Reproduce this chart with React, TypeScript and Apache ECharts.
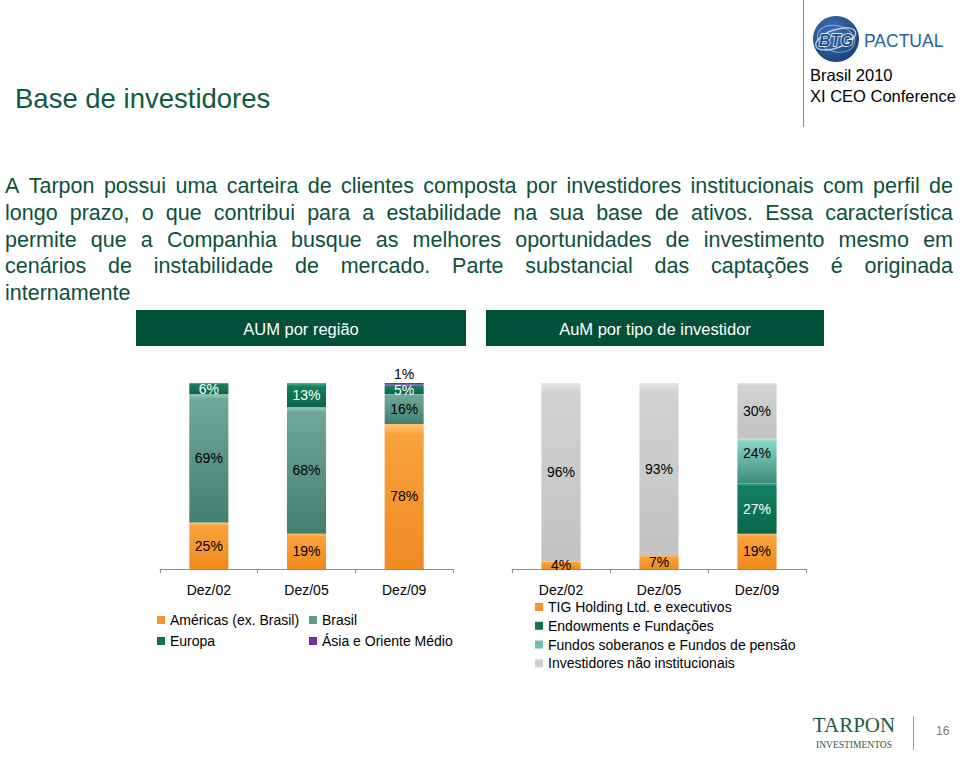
import React, { useEffect, useRef } from 'react';
import * as echarts from 'echarts';

// ---------- data ----------
const regionCategories = ['Dez/02', 'Dez/05', 'Dez/09'];
const investorCategories = ['Dez/02', 'Dez/05', 'Dez/09'];

const americasValues = [25, 19, 78];
const brasilValues = [69, 68, 16];
const europaValues = [6, 13, 5];
const asiaValues = [0, 0, 1];

const tigValues = [4, 7, 19];
const endowmentsValues = [0, 0, 27];
const fundosValues = [0, 0, 24];
const naoInstValues = [96, 93, 30];

const regionNames = ['Américas (ex. Brasil)', 'Brasil', 'Europa', 'Ásia e Oriente Médio'];
const investorNames = [
  'TIG Holding Ltd. e executivos',
  'Endowments e Fundações',
  'Fundos soberanos e Fundos de pensão',
  'Investidores não institucionais',
];

const titleText = 'Base de investidores';
const bodyLines = [
  'A Tarpon possui uma carteira de clientes composta por investidores institucionais com perfil de',
  'longo prazo, o que contribui para a estabilidade na sua base de ativos. Essa característica',
  'permite que a Companhia busque as melhores oportunidades de investimento mesmo em',
  'cenários de instabilidade de mercado. Parte substancial das captações é originada',
  'internamente',
];

// ---------- styles ----------
const FONT = '"Liberation Sans", Arial, Helvetica, sans-serif';
const SERIF = '"Liberation Serif", "Times New Roman", serif';
const GREEN_TEXT = '#0D4F3C';

const vgrad = (stops: [number, string][]) =>
  new echarts.graphic.LinearGradient(0, 0, 0, 1, stops.map(([offset, color]) => ({ offset, color })));

const orange = vgrad([[0, '#FCC46E'], [0.08, '#F9A23E'], [1, '#F08A20']]);
const brasilC = vgrad([[0, '#9CCDBE'], [0.04, '#6EA898'], [1, '#437F6F']]);
const europaC = vgrad([[0, '#4DB891'], [0.15, '#177E5C'], [1, '#0C6649']]);
const asiaC = '#7030A0';
const endowC = vgrad([[0, '#37A47D'], [0.06, '#138061'], [1, '#0A6549']]);
const fundosC = vgrad([[0, '#B4EDE2'], [0.06, '#85D5C6'], [1, '#3F897C']]);
const grayC = vgrad([[0, '#E6E6E6'], [0.05, '#D2D2D2'], [1, '#C2C2C2']]);

function justified(lines: string[], x0: number, x1: number, y0: number, gap: number, size: number) {
  const ctx = document.createElement('canvas').getContext('2d')!;
  ctx.font = `${size}px ${FONT}`;
  const els: any[] = [];
  lines.forEach((line, li) => {
    const y = y0 + li * gap;
    if (li === lines.length - 1) {
      els.push({ type: 'text', x: x0, y, style: { text: line, fontSize: size, fontFamily: FONT, fill: GREEN_TEXT, verticalAlign: 'middle' } });
      return;
    }
    const words = line.split(' ');
    const widths = words.map((w) => ctx.measureText(w).width);
    const total = widths.reduce((a, b) => a + b, 0);
    const sp = (x1 - x0 - total) / (words.length - 1);
    let x = x0;
    words.forEach((w, i) => {
      els.push({ type: 'text', x, y, style: { text: w, fontSize: size, fontFamily: FONT, fill: GREEN_TEXT, verticalAlign: 'middle' } });
      x += widths[i] + sp;
    });
  });
  return els;
}

function bar(name: string, data: number[], axis: number, color: any, labelColor: string, labelExtra: any = {}) {
  return {
    name,
    type: 'bar',
    stack: 'stack' + axis,
    xAxisIndex: axis,
    yAxisIndex: axis,
    data,
    barWidth: '40%',
    itemStyle: { color },
    label: {
      show: true,
      position: 'inside',
      fontSize: 14,
      fontFamily: FONT,
      color: labelColor,
      formatter: (p: any) => (p.value > 0 ? p.value + '%' : ''),
      ...labelExtra,
    },
    emphasis: { disabled: true },
  };
}

const xAxisBase = (gridIndex: number, data: string[]) => ({
  type: 'category',
  gridIndex,
  data,
  axisLine: { lineStyle: { color: '#8C8C8C', width: 1 } },
  axisTick: { show: true, length: 4, lineStyle: { color: '#8C8C8C' } },
  axisLabel: { fontSize: 14, color: '#000', margin: 14, fontFamily: FONT },
});

const yAxisBase = (gridIndex: number) => ({
  type: 'value',
  gridIndex,
  min: 0,
  max: 100,
  show: false,
  splitLine: { show: false },
});

const legendBase = {
  orient: 'vertical',
  padding: 0,
  itemWidth: 8,
  itemHeight: 8,
  icon: 'rect',
  selectedMode: false,
  textStyle: { fontSize: 14, color: '#000', fontFamily: FONT, lineHeight: 16 },
};

export default function App() {
  const ref = useRef<HTMLDivElement>(null);
  useEffect(() => {
    document.body.style.margin = '0';
    if (!ref.current) return;
    const chart = echarts.init(ref.current, undefined, { renderer: 'svg' });

    const graphic: any[] = [
      // title
      { type: 'text', x: 15, y: 98, style: { text: titleText, fontSize: 27.5, fontFamily: FONT, fill: '#0F5A43', verticalAlign: 'middle' } },
      // top-right separator
      { type: 'line', shape: { x1: 803.5, y1: 0, x2: 803.5, y2: 127 }, style: { stroke: '#8A8A8A', lineWidth: 1 } },
      // BTG logo
      {
        type: 'circle',
        shape: { cx: 836, cy: 39, r: 23 },
        style: { fill: new echarts.graphic.RadialGradient(0.4, 0.35, 0.75, [{ offset: 0, color: '#3F74B6' }, { offset: 1, color: '#163D78' }]) },
      },
      { type: 'ellipse', shape: { cx: 836, cy: 39, rx: 21, ry: 9 }, rotation: 0.35, originX: 836, originY: 39, style: { fill: 'none', stroke: 'rgba(255,255,255,0.75)', lineWidth: 1.3 } },
      { type: 'ellipse', shape: { cx: 836, cy: 39, rx: 19, ry: 13 }, rotation: -0.25, originX: 836, originY: 39, style: { fill: 'none', stroke: 'rgba(255,255,255,0.45)', lineWidth: 1 } },
      { type: 'text', x: 836, y: 40, style: { text: 'BTG', fontSize: 16, fontWeight: 'bold', fontStyle: 'italic', fontFamily: FONT, fill: '#1E4C8C', stroke: '#FFFFFF', lineWidth: 1.4, align: 'center', verticalAlign: 'middle' } },
      { type: 'text', x: 864, y: 41, style: { text: 'PACTUAL', fontSize: 17.5, fontFamily: FONT, fill: '#2A5EA8', verticalAlign: 'middle' } },
      { type: 'text', x: 810, y: 75, style: { text: 'Brasil 2010', fontSize: 16.5, fontFamily: FONT, fill: '#000', verticalAlign: 'middle' } },
      { type: 'text', x: 810, y: 96, style: { text: 'XI CEO Conference', fontSize: 16.5, fontFamily: FONT, fill: '#000', verticalAlign: 'middle' } },
      // body paragraph
      ...justified(bodyLines, 5, 953, 186, 26.75, 21.5),
      // header boxes
      { type: 'rect', shape: { x: 136, y: 310, width: 330, height: 36 }, style: { fill: '#03503A' } },
      { type: 'text', x: 301, y: 328.5, style: { text: 'AUM por região', fontSize: 16.5, fontFamily: FONT, fill: '#FFFFFF', align: 'center', verticalAlign: 'middle' } },
      { type: 'rect', shape: { x: 486, y: 310, width: 338, height: 36 }, style: { fill: '#03503A' } },
      { type: 'text', x: 655, y: 328.5, style: { text: 'AuM por tipo de investidor', fontSize: 16.5, fontFamily: FONT, fill: '#FFFFFF', align: 'center', verticalAlign: 'middle' } },
      // footer
      { type: 'text', x: 854, y: 725, style: { text: 'TARPON', fontSize: 21, lineHeight: 20, fontFamily: SERIF, fill: '#1F5A45', align: 'center', verticalAlign: 'middle' } },
      { type: 'text', x: 854, y: 744.5, style: { text: 'INVESTIMENTOS', fontSize: 9.5, lineHeight: 10, fontFamily: SERIF, fill: '#1F5A45', align: 'center', verticalAlign: 'middle' } },
      { type: 'line', shape: { x1: 913.5, y1: 716, x2: 913.5, y2: 750 }, style: { stroke: '#9A9A9A', lineWidth: 1 } },
      { type: 'text', x: 936, y: 731, style: { text: '16', fontSize: 12, fontFamily: FONT, fill: '#777', verticalAlign: 'middle' } },
    ];

    const option: any = {
      animation: false,
      textStyle: { fontFamily: FONT },
      grid: [
        { left: 160, top: 383, width: 293, height: 186 },
        { left: 512, top: 383, width: 294, height: 186 },
      ],
      xAxis: [xAxisBase(0, regionCategories), xAxisBase(1, investorCategories)],
      yAxis: [yAxisBase(0), yAxisBase(1)],
      legend: [
        {
          ...legendBase,
          left: 157,
          top: 612,
          itemGap: 5,
          data: [
            { name: regionNames[0], itemStyle: { color: '#F7962E' } },
            { name: regionNames[2], itemStyle: { color: '#0E7352' } },
          ],
        },
        {
          ...legendBase,
          left: 309,
          top: 612,
          itemGap: 5,
          data: [
            { name: regionNames[1], itemStyle: { color: '#5E9A8A' } },
            { name: regionNames[3], itemStyle: { color: '#7030A0' } },
          ],
        },
        {
          ...legendBase,
          left: 535,
          top: 599,
          itemGap: 2.8,
          data: [
            { name: investorNames[0], itemStyle: { color: '#F7962E' } },
            { name: investorNames[1], itemStyle: { color: '#0E7352' } },
            { name: investorNames[2], itemStyle: { color: '#6FC0B2' } },
            { name: investorNames[3], itemStyle: { color: '#CFCFCF' } },
          ],
        },
      ],
      series: [
        bar(regionNames[0], americasValues, 0, orange, '#000'),
        bar(regionNames[1], brasilValues, 0, brasilC, '#000'),
        bar(regionNames[2], europaValues, 0, europaC, '#FFFFFF'),
        bar(regionNames[3], asiaValues, 0, asiaC, '#000', { position: 'top', distance: 2 }),
        bar(investorNames[0], tigValues, 1, orange, '#000'),
        bar(investorNames[1], endowmentsValues, 1, endowC, '#FFFFFF'),
        bar(investorNames[2], fundosValues, 1, fundosC, '#000', { offset: [0, -8] }),
        bar(investorNames[3], naoInstValues, 1, grayC, '#000'),
      ],
      graphic,
    };
    chart.setOption(option);
    return () => chart.dispose();
  }, []);
  return <div ref={ref} style={{ width: 960, height: 760 }} />;
}
